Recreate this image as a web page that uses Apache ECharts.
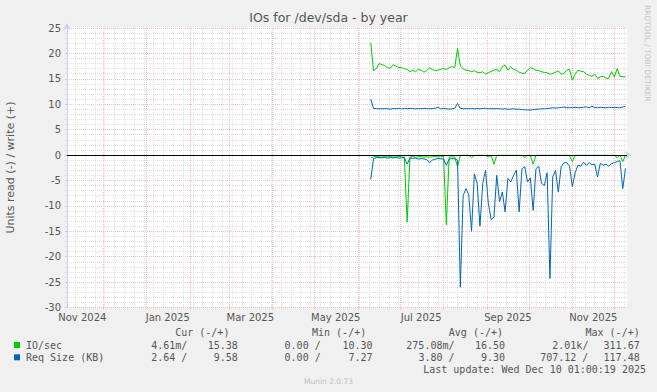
<!DOCTYPE html>
<html><head><meta charset="utf-8">
<script src="https://cdn.jsdelivr.net/npm/echarts@6/dist/echarts.min.js"></script>
<style>html,body{margin:0;padding:0;background:#F0F0F0;}#c{width:657px;height:392px;}</style>
</head><body><div id="c"></div>
<script>
// ---------- data ----------
const chartTitle = 'IOs for /dev/sda - by year';
const yAxisName = 'Units read (-) / write (+)';
const xTickMonths = [[2024,10],[2025,0],[2025,2],[2025,4],[2025,6],[2025,8],[2025,10]];
const xTickLabels = ['Nov 2024','Jan 2025','Mar 2025','May 2025','Jul 2025','Sep 2025','Nov 2025'];
const dataStart = '2025-06-10';
const stepDays = 2;

const ioWrite = [22.1, 16.6, 17.0, 18.0, 17.8, 17.6, 17.2, 17.1, 17.8, 17.5,
 17.2, 17.2, 17.0, 16.85, 16.4, 16.7, 16.4, 16.85, 16.7, 16.3,
 16.6, 17.2, 16.85, 16.6, 16.7, 16.9, 17.0, 16.85, 17.2, 17.4,
 17.2, 21.0, 17.5, 16.95, 16.7, 16.6, 16.4, 16.6, 16.3, 16.2,
 16.4, 15.9, 16.2, 16.45, 16.7, 16.85, 16.4, 17.4, 17.7, 16.7,
 17.4, 16.85, 16.7, 16.3, 16.1, 16.06, 16.7, 17.2, 17.0, 16.7,
 16.6, 16.4, 16.25, 16.2, 15.9, 16.06, 16.3, 16.6, 15.9, 16.06,
 16.7, 16.85, 14.74, 15.9, 16.7, 16.5, 16.4, 15.9, 15.7, 15.5,
 15.9, 15.1, 15.4, 15.5, 15.1, 15.1, 16.4, 15.3, 17.0, 15.5,
 15.4, 15.38];

const ioRead = [-0.6, -0.35, -0.3, -0.35, -0.4, -0.3, -0.35, -0.3, -0.4, -0.35,
 -0.3, -0.35, -0.4, -13.2, -0.35, -0.3, -0.4, -0.35, -0.3, -0.4,
 -0.35, -0.45, -0.35, -0.3, -0.4, -0.35, -0.3, -13.7, -0.4, -0.35,
 -0.4, -2.3, -0.05, -0.05, -0.05, -0.05, -0.5, -0.05, -0.05, -0.05,
 -0.05, -0.05, -0.4, -0.05, -1.8, -0.05, -0.05, -0.05, -0.05, -0.05,
 -0.05, -0.05, -0.05, -0.05, -0.05, -0.5, -0.05, -0.05, -1.8, -0.05,
 -0.05, -0.05, -0.05, -0.05, -0.05, -0.05, -0.05, -0.05, -0.05, -0.05,
 -0.05, -0.05, -1.3, -0.05, -0.05, -0.05, -0.05, -0.05, -0.05, -0.05,
 -0.05, -0.05, -0.05, -0.05, -0.05, -0.05, -0.05, -0.05, -0.5, -0.05,
 -1.3, -0.05];

const reqWrite = [11.0, 9.15, 9.15, 9.1, 9.1, 9.15, 9.1, 9.05, 9.15, 9.1,
 9.2, 9.1, 9.15, 9.1, 9.2, 9.15, 9.1, 9.15, 9.1, 9.2,
 9.15, 9.1, 9.15, 9.2, 9.4, 9.1, 9.15, 9.1, 9.05, 9.1,
 9.2, 10.15, 9.2, 9.1, 9.15, 9.1, 9.15, 9.1, 9.15, 9.1,
 9.15, 9.2, 9.1, 9.15, 9.1, 9.15, 9.1, 9.05, 9.1, 9.0,
 9.05, 9.1, 9.0, 9.05, 8.95, 8.9, 8.9, 8.85, 8.95, 9.0,
 9.05, 9.1, 9.1, 9.15, 9.2, 9.3, 9.25, 9.3, 9.35, 9.45,
 9.3, 9.35, 9.3, 9.4, 9.3, 9.35, 9.4, 9.5, 9.3, 9.6,
 9.35, 9.3, 9.4, 9.35, 9.3, 9.4, 9.35, 9.4, 9.35, 9.3,
 9.45, 9.58];

const reqRead = [-4.8, -0.7, -0.5, -0.5, -0.55, -0.5, -0.6, -0.5, -0.55, -0.5,
 -0.6, -0.55, -0.5, -1.8, -0.6, -0.65, -0.6, -0.8, -0.7, -0.75,
 -0.9, -1.5, -1.0, -0.8, -0.7, -0.75, -0.8, -2.0, -0.8, -0.7,
 -0.75, -1.0, -26.0, -8.0, -6.6, -7.8, -15.0, -3.7, -5.5, -14.0,
 -5.6, -3.0, -9.5, -12.7, -12.2, -4.0, -9.2, -7.3, -11.2, -4.6,
 -5.3, -4.0, -3.0, -11.2, -2.7, -2.3, -5.3, -4.5, -10.9, -2.7,
 -2.2, -5.6, -6.0, -3.5, -24.3, -4.3, -3.0, -7.3, -2.3, -1.5,
 -1.5, -2.2, -6.2, -3.5, -2.0, -2.2, -1.4, -2.0, -1.5, -1.9,
 -1.8, -4.3, -1.6, -2.0, -1.8, -2.2, -1.7, -1.5, -1.3, -1.1,
 -6.6, -2.64];

const legendNames = ['IO/sec', 'Req Size (KB)'];
const legendHeader = ['Cur (-/+)', 'Min (-/+)', 'Avg (-/+)', 'Max (-/+)'];
const ioStats = ['4.61m/', '15.38', '0.00 /', '10.30', '275.08m/', '16.50', '2.01k/', '311.67'];
const reqStats = ['2.64 /', '9.58', '0.00 /', '7.27', '3.80 /', '9.30', '707.12 /', '117.48'];
const lastUpdate = 'Last update: Wed Dec 10 01:00:19 2025';
const watermark = 'Munin 2.0.73';
const sideText = 'RRDTOOL / TOBI OETIKER';

// ---------- build ----------
const GREEN = '#00CC00', BLUE = '#0066B3';
const FONTC = '#555555';
const DAY = 86400000;
const endTime = Date.UTC(2025, 11, 10, 1, 0, 19);
const startTime = endTime - 400 * DAY;
const ds = dataStart.split('-').map(Number);
const t0 = Date.UTC(ds[0], ds[1] - 1, ds[2]);
const pts = arr => arr.map((v, i) => [t0 + i * stepDays * DAY, v]);

const monthLines = [];
{ let y = 2024, m = 11; while (true) { const t = Date.UTC(y, m, 1); if (t > endTime) break; monthLines.push(t); m++; if (m > 11) { m = 0; y++; } } }
const weekLines = [];
for (let t = Date.UTC(2024, 10, 11); t < endTime; t += 7 * DAY) weekLines.push(t);
const labelTimes = xTickMonths.map(([y, m]) => Date.UTC(y, m, 1) + 15 * DAY);

const MINOR = '#E0E0E0', MAJOR = '#F5BEBE', AXIS = '#C9D1F5';
const DASH = [1, 1];
const mono = '10px "DejaVu Sans Mono"';

const colRight = [187.3, 237.8, 320.7, 372.5, 454.5, 505, 588.4, 639.7];
const headRight = [229.4, 366.2, 503, 639.7];
const rowY = [345, 357.3];

const graphic = [];
graphic.push({type:'text', x:10.5, y:167.5, rotation:Math.PI/2, silent:true,
  style:{text:yAxisName, font:'11px "DejaVu Sans"', fill:FONTC, align:'center', verticalAlign:'middle'}});
graphic.push({type:'text', x:647, y:5, rotation:-Math.PI/2, silent:true,
  style:{text:sideText, font:'7.5px "DejaVu Sans"', fill:'#C4C4C4', align:'left', verticalAlign:'middle'}});
legendHeader.forEach((h, i) => graphic.push({type:'text', x:headRight[i], y:332.3, silent:true,
  style:{text:h, font:mono, fill:FONTC, align:'right', verticalAlign:'middle'}}));
[[ioStats, GREEN], [reqStats, BLUE]].forEach(([stats, col], r) => {
  graphic.push({type:'rect', shape:{x:14, y:rowY[r]-3, width:6, height:6}, style:{fill:col}, silent:true});
  graphic.push({type:'text', x:26, y:rowY[r], silent:true,
    style:{text:legendNames[r], font:mono, fill:FONTC, align:'left', verticalAlign:'middle'}});
  stats.forEach((s, i) => graphic.push({type:'text', x:colRight[i], y:rowY[r], silent:true,
    style:{text:s, font:mono, fill:FONTC, align:'right', verticalAlign:'middle'}}));
});
graphic.push({type:'text', x:646, y:369, silent:true,
  style:{text:lastUpdate, font:mono, fill:FONTC, align:'right', verticalAlign:'middle'}});
graphic.push({type:'text', x:328.5, y:381, silent:true,
  style:{text:watermark, font:'7.5px "DejaVu Sans"', fill:'#C0C0C0', align:'center', verticalAlign:'middle'}});

const lineSeries = (name, arr, color, z) => ({
  name, type:'line', data:pts(arr), symbol:'none', showSymbol:false, z,
  lineStyle:{color, width:1}, itemStyle:{color}, emphasis:{disabled:true}, animation:false
});

const s4 = lineSeries('Req Size write', reqWrite, BLUE, 5);
s4.markLine = {silent:true, symbol:'none', animation:false, z:10, label:{show:false},
  lineStyle:{color:'#000', width:1, type:'solid'}, emphasis:{disabled:true}, data:[{yAxis:0}]};

const option = {
  backgroundColor:'#F0F0F0',
  animation:false,
  textStyle:{fontFamily:'DejaVu Sans'},
  title:{text:chartTitle, left:'center', top:10.5, padding:0,
    textStyle:{fontSize:12.5, fontWeight:'normal', color:FONTC, fontFamily:'DejaVu Sans'}},
  grid:{left:67, right:30, top:28, bottom:84.5, show:true, backgroundColor:'#FFFFFF', borderWidth:0, containLabel:false, outerBoundsMode:'none'},
  xAxis:[
    {type:'value', min:startTime, max:endTime, position:'bottom', scale:true,
      axisLine:{show:true, lineStyle:{color:AXIS, width:1}, symbol:['none','arrow'], symbolSize:[6,7], symbolOffset:[0,5]},
      axisTick:{show:true, customValues:weekLines, length:2, lineStyle:{color:MINOR}},
      axisLabel:{show:true, customValues:labelTimes, hideOverlap:false,
        formatter:v => { const k = labelTimes.indexOf(v); return k >= 0 ? xTickLabels[k] : ''; },
        color:FONTC, fontSize:10, fontFamily:'DejaVu Sans', margin:5},
      splitLine:{show:true, lineStyle:{color:MINOR, type:DASH, width:1}}
    },
    {type:'value', min:startTime, max:endTime, position:'bottom', scale:true,
      axisLine:{show:false},
      axisTick:{show:true, customValues:monthLines, length:2, lineStyle:{color:MAJOR}},
      axisLabel:{show:false},
      splitLine:{show:true, lineStyle:{color:MAJOR, type:DASH, width:1}}
    }
  ],
  yAxis:{type:'value', min:-30, max:25, interval:5,
    axisLine:{show:true, lineStyle:{color:AXIS, width:1}, symbol:['none','arrow'], symbolSize:[6,7], symbolOffset:[0,5]},
    axisTick:{show:true, length:2, lineStyle:{color:MAJOR}},
    minorTick:{show:true, splitNumber:5, length:2, lineStyle:{color:MINOR}},
    axisLabel:{color:FONTC, fontSize:10, fontFamily:'DejaVu Sans', margin:6},
    splitLine:{show:true, lineStyle:{color:MAJOR, type:DASH, width:1}},
    minorSplitLine:{show:true, lineStyle:{color:MINOR, type:DASH, width:1}}
  },
  series:[
    lineSeries('IO/sec read', ioRead, GREEN, 2),
    lineSeries('IO/sec write', ioWrite, GREEN, 3),
    lineSeries('Req Size read', reqRead, BLUE, 4),
    s4
  ],
  graphic
};

const chart = echarts.init(document.getElementById('c'), null, {renderer:'svg'});
chart.setOption(option);
</script></body></html>
